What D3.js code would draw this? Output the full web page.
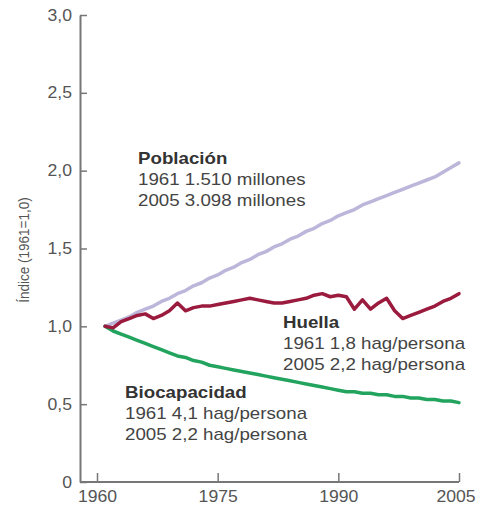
<!DOCTYPE html>
<html>
<head>
<meta charset="utf-8">
<script src="https://cdn.jsdelivr.net/npm/d3@7"></script>
<style>
  html, body { margin: 0; padding: 0; background: #fff; }
  svg { display: block; font-family: "Liberation Sans", Arial, Helvetica, sans-serif; }
</style>
</head>
<body>
<svg id="chart" width="477" height="508"></svg>
<script>
// ---- data ----
const years = d3.range(1961, 2006); // 1961..2005
const poblacion = [1.00,1.02,1.04,1.06,1.09,1.11,1.13,1.16,1.18,1.21,
                   1.23,1.26,1.28,1.31,1.33,1.36,1.38,1.41,1.43,1.46,
                   1.48,1.51,1.53,1.56,1.58,1.61,1.63,1.66,1.68,1.71,
                   1.73,1.75,1.78,1.80,1.82,1.84,1.86,1.88,1.90,1.92,
                   1.94,1.96,1.99,2.02,2.05];
const huella = [1.00,0.99,1.03,1.05,1.07,1.08,1.05,1.07,1.10,1.15,
                1.10,1.12,1.13,1.13,1.14,1.15,1.16,1.17,1.18,1.17,
                1.16,1.15,1.15,1.16,1.17,1.18,1.20,1.21,1.19,1.20,
                1.19,1.11,1.17,1.11,1.15,1.18,1.10,1.05,1.07,1.09,
                1.11,1.13,1.16,1.18,1.21];
const biocapacidad = [1.00,0.97,0.95,0.93,0.91,0.89,0.87,0.85,0.83,0.81,
                      0.80,0.78,0.77,0.75,0.74,0.73,0.72,0.71,0.70,0.69,
                      0.68,0.67,0.66,0.65,0.64,0.63,0.62,0.61,0.60,0.59,
                      0.58,0.58,0.57,0.57,0.56,0.56,0.55,0.55,0.54,0.54,
                      0.53,0.53,0.52,0.52,0.51];
const xTicks = [1960, 1975, 1990, 2005];
const yTicks = [0, 0.5, 1.0, 1.5, 2.0, 2.5, 3.0];
const yTitle = "Índice (1961=1,0)";
const labelPoblacion = ["Población", "1961 1.510 millones", "2005 3.098 millones"];
const labelHuella = ["Huella", "1961 1,8 hag/persona", "2005 2,2 hag/persona"];
const labelBio = ["Biocapacidad", "1961 4,1 hag/persona", "2005 2,2 hag/persona"];

// ---- layout ----
const W = 477;
const svg = d3.select("#chart");
const axisX0 = 80;
const stretch = 1.17;
const tickStretch = 1.1;
const x = d3.scaleLinear().domain([1960, 2005]).range([97, 459]);
const y = d3.scaleLinear().domain([0, 3]).range([482, 15]);
const axisColor = "#777";
const tickTextColor = "#555";
const fmt = d => d === 0 ? "0" : d3.format(".1f")(d).replace(".", ",");

function stretchText(sel) {
  sel.attr("transform", function () {
    const ax = +this.getAttribute("x") || 0;
    return `translate(${ax},0) scale(${tickStretch},1) translate(${-ax},0)`;
  });
}

// Y axis
const gy = svg.append("g").attr("transform", `translate(${axisX0},0)`)
  .call(d3.axisLeft(y).tickValues(yTicks).tickFormat(fmt).tickSize(-7).tickSizeOuter(0).tickPadding(8));
gy.select(".domain").attr("stroke", axisColor).attr("stroke-width", 2);
gy.selectAll(".tick line").attr("stroke", axisColor).attr("stroke-width", 1.5);
gy.selectAll(".tick text").attr("fill", tickTextColor)
  .style("font-size", "16px").style("font-family", "'Liberation Sans', Arial, sans-serif")
  .call(stretchText);

// X axis
const gx = svg.append("g").attr("transform", `translate(0,${y(0)})`)
  .call(d3.axisBottom(x).tickValues(xTicks).tickFormat(d3.format("d")).tickSize(-9).tickSizeOuter(0).tickPadding(9));
gx.select(".domain").remove();
gx.append("line").attr("x1", axisX0).attr("x2", x(2005)).attr("y1", 0).attr("y2", 0)
  .attr("stroke", axisColor).attr("stroke-width", 2);
gx.selectAll(".tick line").attr("stroke", axisColor).attr("stroke-width", 1.5);
gx.selectAll(".tick text").attr("fill", tickTextColor)
  .style("font-size", "16px").style("font-family", "'Liberation Sans', Arial, sans-serif")
  .call(stretchText);
// keep the last label inside the canvas
gx.selectAll(".tick").each(function (d) {
  const t = d3.select(this).select("text");
  const w = this.querySelector("text").getComputedTextLength() * tickStretch;
  const over = x(d) + w / 2 - (W - 2);
  if (over > 0) t.attr("dx", -over / tickStretch);
});

// Y title
svg.append("text")
  .attr("transform", `translate(29,250) rotate(-90) scale(1,1.15)`)
  .attr("text-anchor", "middle")
  .attr("fill", "#555")
  .style("font-size", "13.5px")
  .text(yTitle);

// Lines
const line = d3.line().x((d, i) => x(years[i])).y(d => y(d)).curve(d3.curveLinear);
svg.append("path").datum(poblacion).attr("d", line)
  .attr("fill", "none").attr("stroke", "#bcb7da").attr("stroke-width", 3.5)
  .attr("stroke-linejoin", "round").attr("stroke-linecap", "round");
svg.append("path").datum(biocapacidad).attr("d", line)
  .attr("fill", "none").attr("stroke", "#22a45e").attr("stroke-width", 3.5)
  .attr("stroke-linejoin", "round").attr("stroke-linecap", "round");
svg.append("path").datum(huella).attr("d", line)
  .attr("fill", "none").attr("stroke", "#9a1b3e").attr("stroke-width", 3.5)
  .attr("stroke-linejoin", "round").attr("stroke-linecap", "round");

// Annotations
function block(lines, x0, yBase) {
  const g = svg.append("g").attr("transform", `translate(${x0},${yBase}) scale(${stretch},1)`);
  lines.forEach((t, i) => {
    g.append("text")
      .attr("x", 0).attr("y", i * 21)
      .attr("fill", i === 0 ? "#333" : "#444")
      .style("font-size", "16px")
      .style("font-weight", i === 0 ? "bold" : "normal")
      .text(t);
  });
}
block(labelPoblacion, 138, 164);
block(labelHuella, 283, 328);
block(labelBio, 125, 398);
</script>
</body>
</html>
